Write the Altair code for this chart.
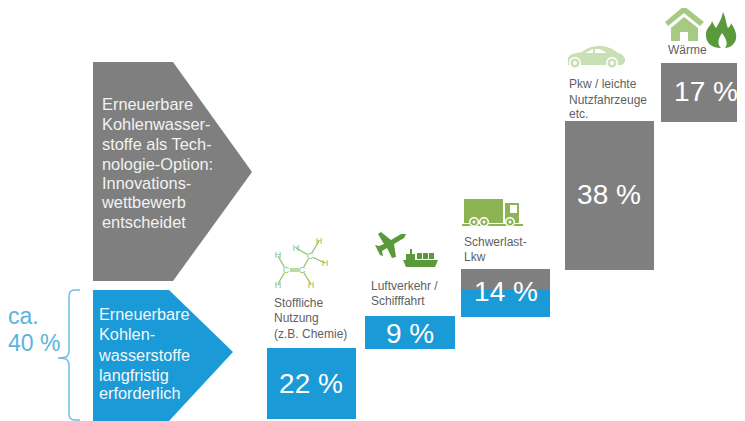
import altair as alt
import pandas as pd

GRAY = "#7f7f7f"
BLUE = "#1a9ad6"
BRACE = "#6cbfe8"
LABEL = "#5f5f5f"
LEAF = "#a6c984"
TRUCK = "#8db452"
DARK = "#5a9a3c"
PALE = "#c8e0b4"
MOL = "#8fc060"
FONT = "Liberation Sans"

# steps (positions, in picture pixels)
bar_x1 = [267, 365, 461, 461, 565, 661]
bar_x2 = [356, 455, 550, 550, 654, 745]
bar_y1 = [348, 316, 269, 290, 121, 63]
bar_y2 = [419, 349, 291, 317, 270, 122]
bar_col = [BLUE, BLUE, GRAY, BLUE, GRAY, GRAY]

pct_text = ["22 %", "9 %", "14 %", "38 %", "17 %"]
pct_x = [311, 410, 506, 609, 706]
pct_y = [385, 335, 293, 196, 93]

label_text = ["Stoffliche", "Nutzung", "(z.B. Chemie)", "Luftverkehr /", "Schifffahrt",
              "Schwerlast-", "Lkw", "Pkw / leichte", "Nutzfahrzeuge", "etc.", "Wärme"]
label_x = [274, 274, 274, 371, 371, 464, 464, 569, 569, 569, 668]
label_y = [303, 318, 334, 286, 301, 242, 257, 84, 100, 114, 50]

gray_lines = ["Erneuerbare", "Kohlenwasser-", "stoffe als Tech-", "nologie-Option:",
              "Innovations-", "wettbewerb", "entscheidet"]
gray_line_y = [105, 125, 145, 165, 184, 203, 223]
blue_lines = ["Erneuerbare", "Kohlen-", "wasserstoffe", "langfristig", "erforderlich"]
blue_line_y = [315, 335, 356, 376, 394]
ca_lines = ["ca.", "40 %"]
ca_x = [8, 8]
ca_y = [317, 344]

gray_arrow_x = [93, 173, 252]
gray_arrow_top = [62, 62, 172]
gray_arrow_bot = [281, 281, 172]
blue_arrow_x = [93, 169, 233]
blue_arrow_top = [290, 290, 352]
blue_arrow_bot = [421, 421, 352]

brace_x = [80, 74, 70, 69, 69, 66, 58, 66, 69, 69, 70, 74, 80]
brace_y = [290, 290, 292, 297, 352, 357, 358, 359, 364, 414, 418, 420, 420]

bond_x1 = [278, 286, 290, 290, 302, 302, 310, 310, 310]
bond_y1 = [256, 270, 269, 271, 270, 270, 256, 256, 256]
bond_x2 = [286, 278, 302, 302, 311, 310, 296, 319, 325]
bond_y2 = [270, 284, 269, 271, 284, 256, 248, 241, 263]
atom_text = ["H", "H", "H", "H", "H", "H", "C", "C", "C"]
atom_x = [278, 296, 319, 325, 278, 311, 286, 302, 310]
atom_y = [255, 248, 241, 263, 285, 285, 270, 270, 256]


def circle(cx, cy, r):
    return f"M{cx-r} {cy}A{r} {r} 0 1 0 {cx+r} {cy}A{r} {r} 0 1 0 {cx-r} {cy}Z"


icon_paths = [
    # truck
    ("M464 199H503V223H464Z", TRUCK),
    ("M505 203H519V223H505Z", TRUCK),
    ("M510 205H517V213H510Z", "#ffffff"),
    ("M462 224H523V226H462Z", TRUCK),
    (circle(474, 222, 5), "#ffffff"), (circle(484, 222, 5), "#ffffff"), (circle(510, 222, 5), "#ffffff"),
    (circle(474, 222, 3.6), TRUCK), (circle(484, 222, 3.6), TRUCK), (circle(510, 222, 3.6), TRUCK),
    (circle(474, 222, 1.5), "#ffffff"), (circle(484, 222, 1.5), "#ffffff"), (circle(510, 222, 1.5), "#ffffff"),
    # plane
    ("M406 234L404 238L394 244L396 257L392 258L387 248L382 251L383 256L380 255L375 245L379 246L384 244"
     "L378 234L381 232L391 240L401 234Z", DARK),
    # ship
    ("M403 260H438L435 267H406Z", DARK),
    ("M406 260V254H410V249H412V254H415V260Z", DARK),
    ("M417 253H422V259H417ZM423 253H428V259H423ZM429 253H434V259H429Z", DARK),
    # house
    ("M684 6L704 22L700 26L684 13L668 26L665 22Z", LEAF),
    ("M684 17L698 28V41H688V32H680V41H671V28Z", LEAF),
    # flame
    ("M721 48C711 48 705 42 706 33C707 27 711 26 712 21C714 25 715 27 716 28C719 23 722 18 723 12"
     "C726 18 726 24 728 28C730 26 731 25 731 23C735 29 737 34 736 39C735 44 730 48 725 48"
     "C728 44 727 40 722 33C718 39 717 44 721 48Z", DARK),
    # car
    ("M568 58C570 54 575 53 582 52C587 48 592 46 600 46C606 46 612 48 618 53C623 54 626 58 625 62"
     "L622 65H568Z", PALE),
    ("M585 53L593 49V53ZM595 49H600L607 53H595Z", "#ffffff"),
    (circle(575, 63, 6), "#ffffff"), (circle(612, 63, 6), "#ffffff"),
    (circle(575, 63, 4.5), PALE), (circle(612, 63, 4.5), PALE),
    (circle(575, 63, 2), "#ffffff"), (circle(612, 63, 2), "#ffffff"),
]

W, H = 729, 413
X = alt.X("x:Q", axis=None, scale=alt.Scale(domain=[8, 737], range=[0, W], nice=False, zero=False))
Y = alt.Y("y:Q", axis=None, scale=alt.Scale(domain=[8, 421], range=[0, H], nice=False, zero=False))


def text_layer(texts, xs, ys, color, size, align="left"):
    df = pd.DataFrame({"t": texts, "x": xs, "y": ys})
    return alt.Chart(df).mark_text(font=FONT, fontSize=size, color=color, align=align,
                                   baseline="middle").encode(x=X, y=Y, text="t:N")


def arrow(xs, top, bot, color):
    df = pd.DataFrame({"x": xs, "y": top, "y2": bot})
    return alt.Chart(df).mark_area(color=color, interpolate="linear").encode(x=X, y=Y, y2="y2:Q")


bars = alt.Chart(pd.DataFrame({"x": bar_x1, "x2": bar_x2, "y": bar_y1, "y2": bar_y2, "c": bar_col})).mark_rect().encode(
    x=X, x2="x2:Q", y=Y, y2="y2:Q", color=alt.Color("c:N", scale=None))

brace = alt.Chart(pd.DataFrame({"x": brace_x, "y": brace_y, "o": list(range(len(brace_x)))})).mark_line(
    color=BRACE, strokeWidth=1.5, interpolate="monotone").encode(x=X, y=Y, order="o:Q")

bonds = alt.Chart(pd.DataFrame({"x": bond_x1, "y": bond_y1, "x2": bond_x2, "y2": bond_y2})).mark_rule(
    color=MOL, strokeWidth=1.2).encode(x=X, x2="x2:Q", y=Y, y2="y2:Q")

atoms_bg = alt.Chart(pd.DataFrame({"x": atom_x[6:], "y": atom_y[6:]})).mark_point(
    shape="circle", size=40, filled=True, color="#ffffff", opacity=1).encode(x=X, y=Y)
atoms = text_layer(atom_text, atom_x, atom_y, MOL, 9, "center")

icons = [
    alt.Chart(pd.DataFrame({"x": [0], "y": [0]})).mark_point(
        shape=p, size=4, filled=True, color=c, opacity=1, strokeWidth=0).encode(x=X, y=Y)
    for p, c in icon_paths
]

chart = alt.layer(
    arrow(gray_arrow_x, gray_arrow_top, gray_arrow_bot, GRAY),
    arrow(blue_arrow_x, blue_arrow_top, blue_arrow_bot, BLUE),
    bars,
    brace,
    *icons,
    bonds, atoms_bg, atoms,
    text_layer(gray_lines, [102] * len(gray_lines), gray_line_y, "#f2f2f2", 16.4),
    text_layer(blue_lines, [99] * len(blue_lines), blue_line_y, "#f2f8fc", 16.3),
    text_layer(ca_lines, ca_x, ca_y, "#5ab4e0", 23),
    text_layer(label_text, label_x, label_y, LABEL, 12),
    text_layer(pct_text, pct_x, pct_y, "#ffffff", 28, "center"),
).properties(width=W, height=H, padding=0, autosize=alt.AutoSizeParams(type="none")).configure_view(stroke=None)

chart.save("out.html", embed_options={"renderer": "svg", "actions": False})
